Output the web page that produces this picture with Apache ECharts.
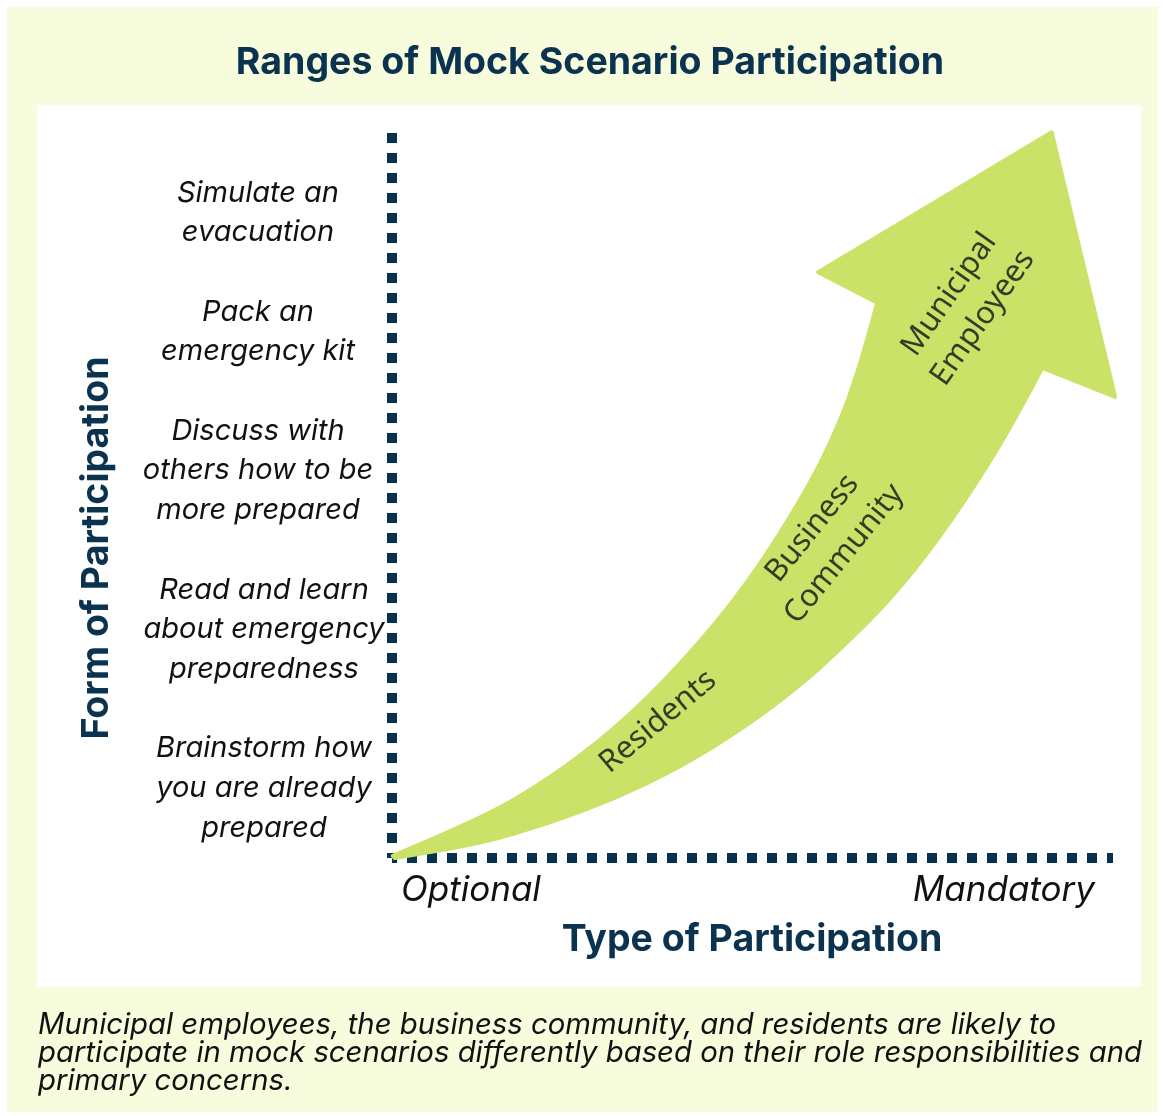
<!DOCTYPE html>
<html>
<head>
<meta charset="utf-8">
<title>Ranges of Mock Scenario Participation</title>
<script src="https://cdn.jsdelivr.net/npm/echarts@6/dist/echarts.min.js"></script>
<style>
  html, body { margin: 0; padding: 0; background: #ffffff; }
  #chart { width: 1164px; height: 1116px; }
</style>
</head>
<body>
<div id="chart"></div>
<script>
(function () {
    // 数据
    const title = 'Ranges of Mock Scenario Participation'
    const yTitle = 'Form of Participation'
    const xTitle = 'Type of Participation'
    const xEnds = ['Optional', 'Mandatory']
    const forms = [
        'Simulate an\nevacuation',
        'Pack an\nemergency kit',
        'Discuss with\nothers how to be\nmore prepared',
        'Read and learn\nabout emergency\npreparedness',
        'Brainstorm how\nyou are already\nprepared'
    ]
    const groups = ['Residents', 'Business\nCommunity', 'Municipal\nEmployees']
    const groupX = [36.9, 60.5, 79.6]
    const groupY = [18.8, 43.7, 76.1]
    const groupAngle = [40, 51, 55]
    const note = 'Municipal employees, the business community, and residents are likely to\n' +
        'participate in mock scenarios differently based on their role responsibilities and\n' +
        'primary concerns.'

    // 箭头轮廓 (坐标轴单位 0-100)
    const upperX = [0.1, 12.2, 21.5, 30.7, 39.9, 49.2, 57.6, 62.1, 64.9, 67.3]
    const upperY = [0.3, 5.3, 10.7, 17.6, 26.5, 37.6, 50.8, 60.0, 67.9, 76.6]
    const headX = [59.1, 91.5, 100.3, 90.2]
    const headY = [80.8, 100.1, 63.6, 67.6]
    const lowerX = [90.2, 87.5, 82.9, 76.0, 69.1, 62.1, 56.6, 49.2, 39.9, 30.7, 21.5, 12.2, 0.4]
    const lowerY = [67.6, 62.5, 54.5, 44.2, 35.6, 28.7, 23.8, 18.2, 12.5, 8.1, 4.7, 2.0, 0]

    const navy = '#0b3350'
    const dotColor = '#07314f'
    const green = '#cbe268'

    const chart = echarts.init(document.getElementById('chart'))

    // 平滑曲线 (中点二次贝塞尔)
    function smoothPath(pts, first) {
        let d = (first ? 'M' : 'L') + pts[0][0] + ' ' + pts[0][1]
        for (let i = 1; i < pts.length - 1; i++) {
            const mx = (pts[i][0] + pts[i + 1][0]) / 2
            const my = (pts[i][1] + pts[i + 1][1]) / 2
            d += ' Q' + pts[i][0] + ' ' + pts[i][1] + ' ' + mx + ' ' + my
        }
        const last = pts[pts.length - 1]
        d += ' L' + last[0] + ' ' + last[1]
        return d
    }

    function renderArrow(params, api) {
        const up = upperX.map((x, i) => api.coord([x, upperY[i]]))
        const hd = headX.map((x, i) => api.coord([x, headY[i]]))
        const lo = lowerX.map((x, i) => api.coord([x, lowerY[i]]))
        let d = smoothPath(up, true)
        hd.forEach(p => { d += ' L' + p[0] + ' ' + p[1] })
        d += ' ' + smoothPath(lo, false) + ' Z'
        return {
            type: 'path',
            shape: { pathData: d },
            style: { fill: green, stroke: green, lineWidth: 4, lineJoin: 'round' }
        }
    }

    // 左侧文字, 按行数往下排
    const formTexts = []
    let top = 173
    forms.forEach((f, i) => {
        const n = f.split('\n').length
        formTexts.push({
            type: 'text',
            x: i < 3 ? 258 : 264,
            y: top,
            style: {
                text: f,
                align: 'center',
                verticalAlign: 'top',
                font: 'italic 29px Inter',
                lineHeight: 39.7,
                fill: '#111111'
            }
        })
        top += (n + 1) * 39.7
    })

    const dotLine = { color: dotColor, width: 10, type: [10, 10], dashOffset: 5, cap: 'butt' }

    const option = {
        backgroundColor: '#ffffff',
        animation: false,
        graphic: [
            { type: 'rect', z: -10, shape: { x: 7, y: 7, width: 1151, height: 1105 }, style: { fill: '#f6fcdc' } },
            { type: 'rect', z: -9, shape: { x: 37, y: 105, width: 1104, height: 882 }, style: { fill: '#ffffff' } },
            {
                type: 'text', x: 590, y: 63,
                style: { text: title, align: 'center', verticalAlign: 'middle', font: 'bold 37.5px Inter', fill: navy }
            },
            {
                type: 'text', x: 97, y: 548, rotation: Math.PI / 2,
                style: { text: yTitle, align: 'center', verticalAlign: 'middle', font: 'bold 37.5px Inter', fill: navy }
            },
            {
                type: 'text', x: 752, y: 940,
                style: { text: xTitle, align: 'center', verticalAlign: 'middle', font: 'bold 37.5px Inter', fill: navy }
            },
            {
                type: 'text', x: 401, y: 890,
                style: { text: xEnds[0], align: 'left', verticalAlign: 'middle', font: 'italic 35px Inter', fill: '#111111' }
            },
            {
                type: 'text', x: 1095, y: 890,
                style: { text: xEnds[1], align: 'right', verticalAlign: 'middle', font: 'italic 35px Inter', fill: '#111111' }
            },
            {
                type: 'text', x: 38, y: 1011,
                style: { text: note, align: 'left', verticalAlign: 'top', font: 'italic 29.3px Inter', lineHeight: 28, fill: '#111111' }
            }
        ].concat(formTexts),
        grid: { left: 392, right: 51, top: 133, bottom: 258 },
        xAxis: {
            type: 'value', min: 0, max: 100,
            axisLine: { show: true, lineStyle: dotLine },
            axisTick: { show: false }, axisLabel: { show: false }, splitLine: { show: false }
        },
        yAxis: {
            type: 'value', min: 0, max: 100,
            axisLine: { show: true, lineStyle: dotLine },
            axisTick: { show: false }, axisLabel: { show: false }, splitLine: { show: false }
        },
        series: [
            {
                type: 'custom',
                clip: false,
                z: 1,
                renderItem: renderArrow,
                data: [[0, 0]]
            },
            {
                type: 'scatter',
                z: 3,
                symbolSize: 0,
                data: groups.map((g, i) => ({
                    value: [groupX[i], groupY[i]],
                    label: { rotate: groupAngle[i] }
                })),
                label: {
                    show: true,
                    position: 'inside',
                    formatter: p => groups[p.dataIndex],
                    fontFamily: 'Noto Sans',
                    fontSize: 31,
                    lineHeight: 41,
                    color: '#111111',
                    align: 'center',
                    verticalAlign: 'middle'
                }
            }
        ]
    }
    chart.setOption(option)
})()
</script>
</body>
</html>
